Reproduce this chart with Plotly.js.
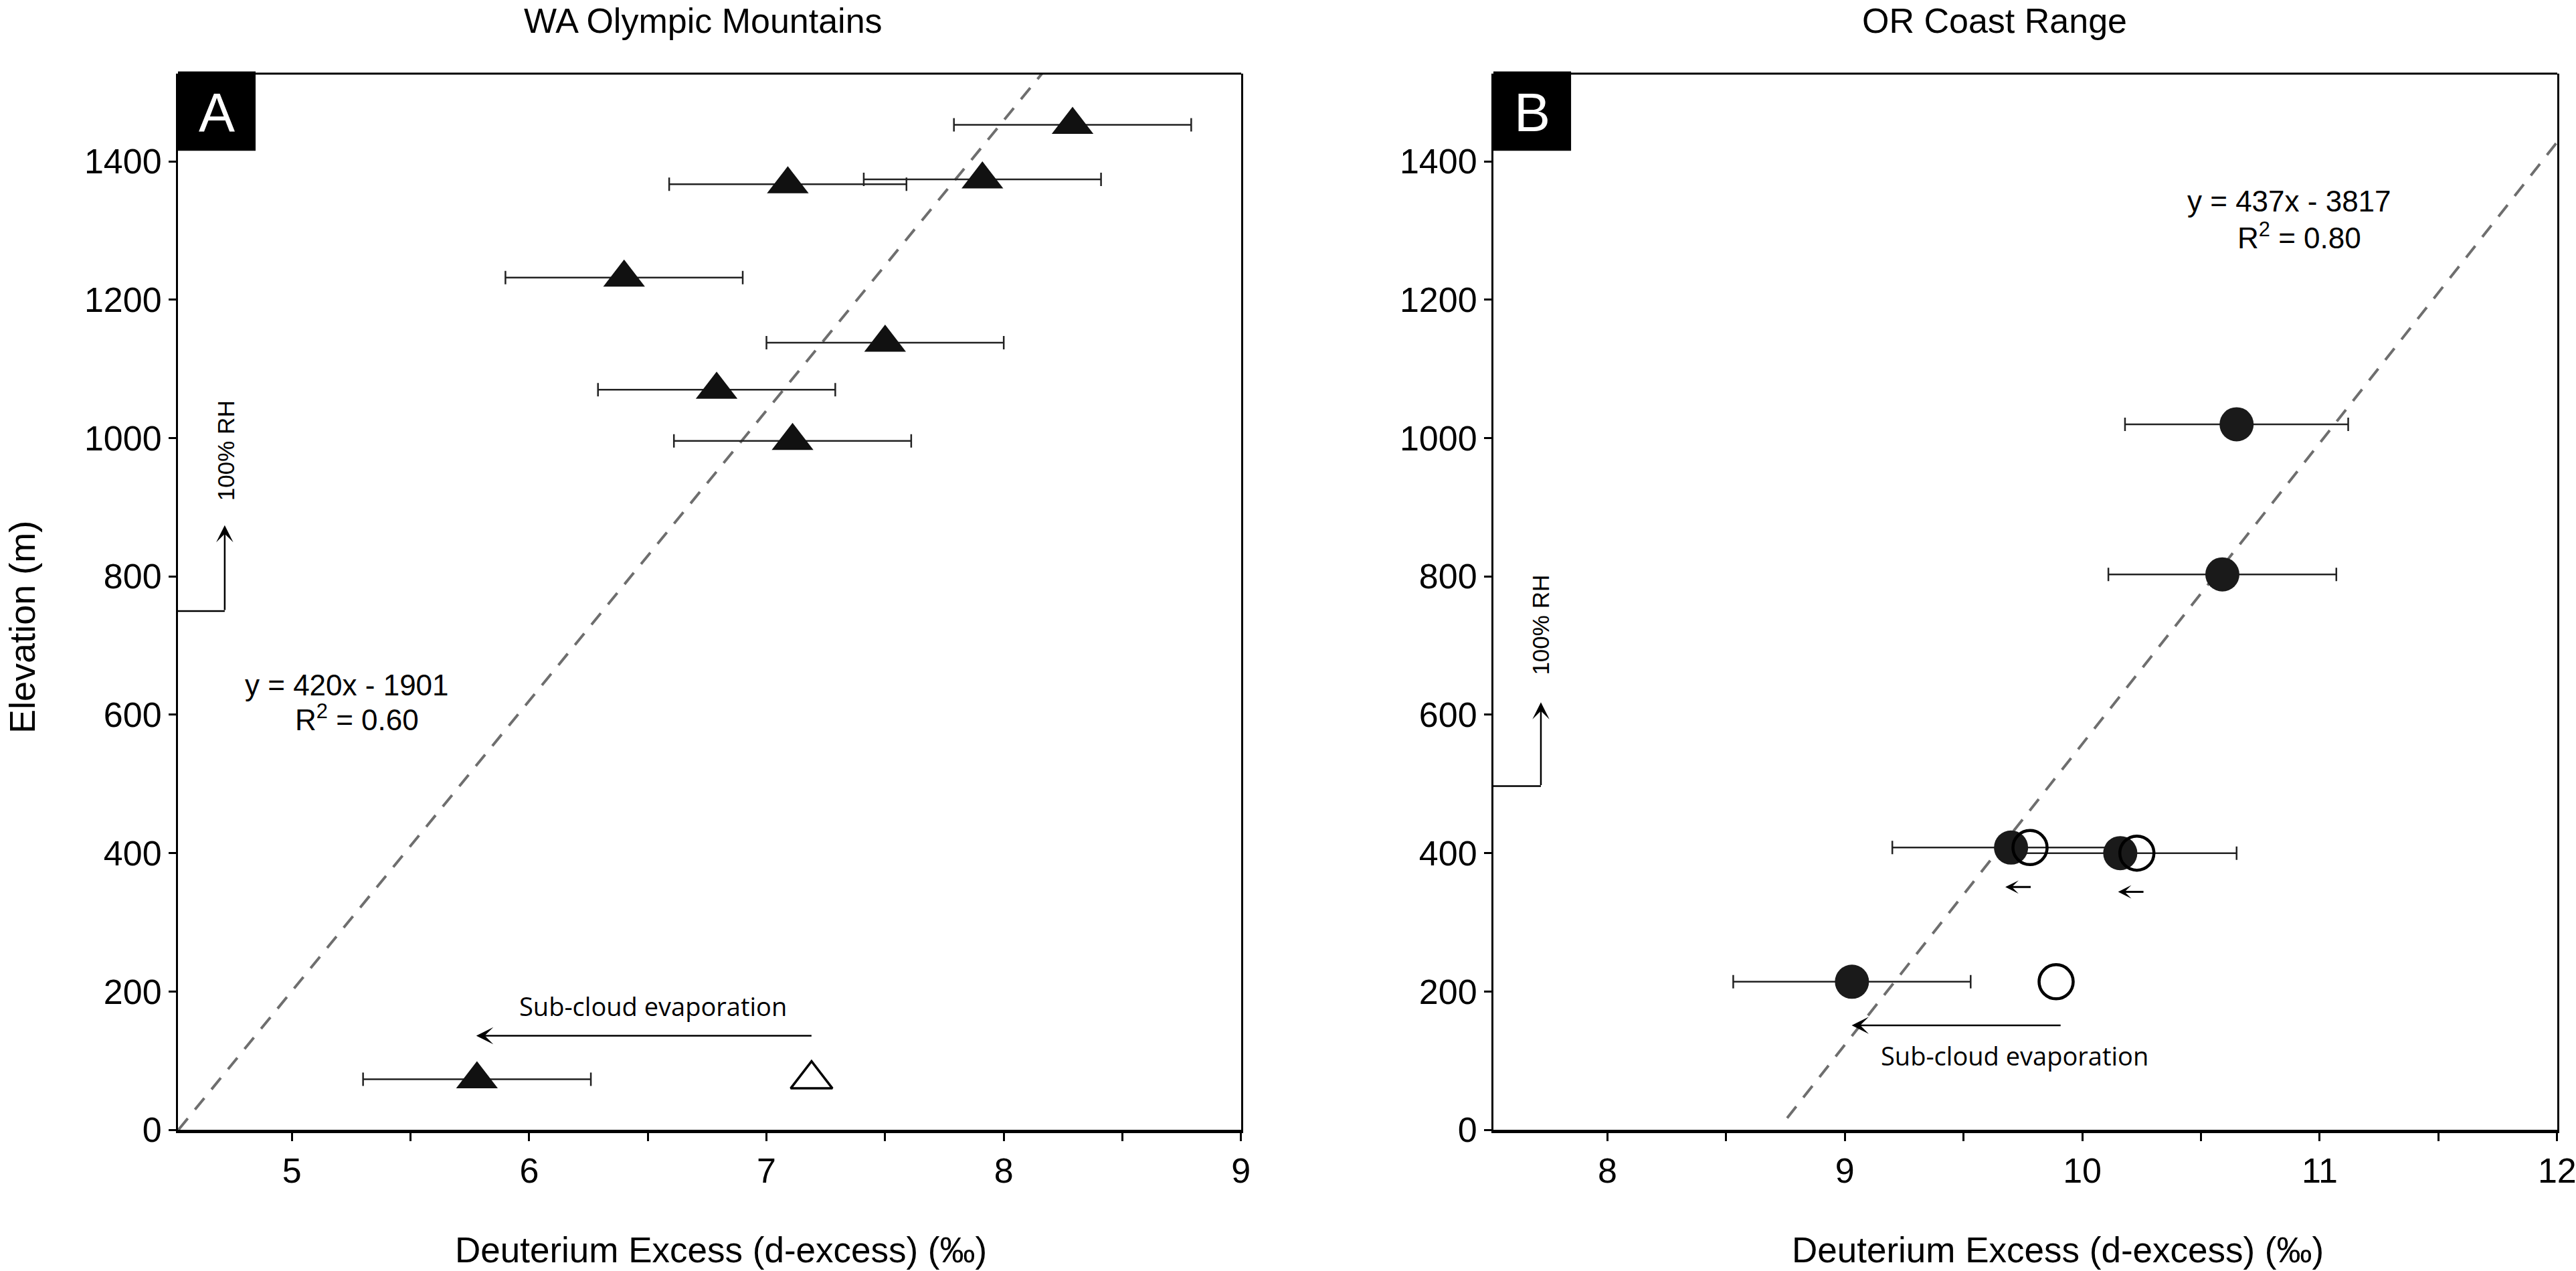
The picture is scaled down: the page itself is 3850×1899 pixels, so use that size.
<!DOCTYPE html>
<html>
<head>
<meta charset="utf-8">
<script src="https://cdn.plot.ly/plotly-3.0.1.min.js"></script>
<style>
  body { margin: 0; background: #fff; }
  #myDiv { width: 3850px; height: 1899px; }
</style>
</head>
<body>
<div id="myDiv"></div>
<script>
// Panel A - WA Olympic Mountains (triangles)
var dexA = [8.29, 7.09, 7.91, 6.40, 7.50, 6.79, 7.11, 5.78];
var elevA = [1453, 1367, 1374, 1232, 1138, 1070, 996, 73];
var errA = [0.5, 0.5, 0.5, 0.5, 0.5, 0.5, 0.5, 0.48];
var dexAOpen = [7.19];
var elevAOpen = [73];

// Panel B - OR Coast Range (circles)
var dexB = [10.65, 10.59, 9.70, 10.16, 9.03];
var elevB = [1020, 803, 408, 400, 214];
var errB = [0.47, 0.48, 0.5, 0.49, 0.5];
var dexBOpen = [9.78, 10.23, 9.89];
var elevBOpen = [408, 400, 214];

// regression lines, end points
var fitAx = [4.522, 8.161];
var fitAy = [0, 1527];
var fitBx = [8.757, 12];
var fitBy = [17, 1428];

// ticks
var xTicksA = [5, 5.5, 6, 6.5, 7, 7.5, 8, 8.5, 9];
var xLabelsA = ['5', '', '6', '', '7', '', '8', '', '9'];
var xTicksB = [8, 8.5, 9, 9.5, 10, 10.5, 11, 11.5, 12];
var xLabelsB = ['8', '', '9', '', '10', '', '11', '', '12'];
var yTicks = [0, 200, 400, 600, 800, 1000, 1200, 1400];

var FONT = 'Liberation Sans, Arial, Helvetica, sans-serif';
var dashLine = {color: '#6e6e6e', width: 4, dash: '22px,17px'};
var errStyle = {type: 'data', visible: true, color: '#222', thickness: 2.5, width: 10};

var data = [
  {x: fitAx, y: fitAy, xaxis: 'x', yaxis: 'y', mode: 'lines', line: dashLine, hoverinfo: 'skip'},
  {x: fitBx, y: fitBy, xaxis: 'x2', yaxis: 'y2', mode: 'lines', line: dashLine, hoverinfo: 'skip'},
  {
    x: dexA, y: elevA, xaxis: 'x', yaxis: 'y', mode: 'markers',
    marker: {symbol: 'triangle-up', size: 54, color: '#111'},
    error_x: Object.assign({array: errA}, errStyle)
  },
  {
    x: dexAOpen, y: elevAOpen, xaxis: 'x', yaxis: 'y', mode: 'markers',
    marker: {symbol: 'triangle-up-open', size: 54, color: '#000', line: {width: 3.5}}
  },
  {
    x: dexB, y: elevB, xaxis: 'x2', yaxis: 'y2', mode: 'markers',
    marker: {symbol: 'circle', size: 51, color: '#1a1a1a'},
    error_x: Object.assign({array: errB}, errStyle)
  },
  {
    x: dexBOpen, y: elevBOpen, xaxis: 'x2', yaxis: 'y2', mode: 'markers',
    marker: {symbol: 'circle-open', size: 51, color: '#000', line: {width: 4.5}}
  }
];

function xAxis(dom, rng, vals, labels, anchor) {
  return {
    domain: dom, range: rng, anchor: anchor,
    tickmode: 'array', tickvals: vals, ticktext: labels,
    ticks: 'outside', ticklen: 12, tickwidth: 3, tickcolor: '#000',
    tickfont: {family: FONT, size: 52, color: '#000'},
    ticklabeloverflow: 'allow',
    showline: true, linewidth: 5, linecolor: '#000', mirror: false,
    showgrid: false, zeroline: false
  };
}
function yAxis(anchor) {
  return {
    domain: [0, 1], range: [0, 1527], anchor: anchor,
    tickmode: 'array', tickvals: yTicks,
    ticks: 'outside', ticklen: 11, tickwidth: 3, tickcolor: '#000',
    tickfont: {family: FONT, size: 52, color: '#000'},
    showline: true, linewidth: 3, linecolor: '#000', mirror: true,
    showgrid: false, zeroline: false
  };
}

function txt(xref, yref, x, y, text, size, extra) {
  return Object.assign({
    xref: xref, yref: yref, x: x, y: y, text: text, showarrow: false,
    xanchor: 'center', yanchor: 'middle',
    font: {family: FONT, size: size, color: '#000'}
  }, extra || {});
}
function arrow(xr, yr, x0, y0, x1, y1, w, s) {
  return {
    xref: xr, yref: yr, axref: xr, ayref: yr,
    x: x1, y: y1, ax: x0, ay: y0, text: '', showarrow: true,
    arrowhead: 3, arrowwidth: w, arrowsize: s, arrowcolor: '#000', standoff: 0
  };
}

var annotations = [
  // panel titles
  txt('paper', 'paper', 0.2208, 1.050, 'WA Olympic Mountains', 52),
  txt('paper', 'paper', 0.7635, 1.050, 'OR Coast Range', 52),
  // axis titles
  txt('paper', 'paper', 0.2281, -0.114, 'Deuterium Excess (d-excess) (‰)', 53),
  txt('paper', 'paper', 0.7902, -0.114, 'Deuterium Excess (d-excess) (‰)', 53),
  txt('paper', 'paper', -0.0655, 0.476, 'Elevation (m)', 54, {textangle: -90}),
  // panel letters
  txt('x domain', 'y domain', 0.0365, 0.9635, 'A', 81, {font: {family: FONT, size: 81, color: '#fff'}}),
  txt('x2 domain', 'y2 domain', 0.0365, 0.9635, 'B', 81, {font: {family: FONT, size: 81, color: '#fff'}}),
  // regression equations
  txt('x', 'y', 5.231, 643, 'y = 420x - 1901', 44),
  txt('x', 'y', 5.273, 596, 'R<sup>2</sup> = 0.60', 44),
  txt('x2', 'y2', 10.873, 1343, 'y = 437x - 3817', 44),
  txt('x2', 'y2', 10.915, 1292, 'R<sup>2</sup> = 0.80', 44),
  // 100% RH labels
  txt('x', 'y', 4.72, 982, '100% RH', 35, {textangle: -90}),
  txt('x2', 'y2', 7.72, 730, '100% RH', 35, {textangle: -90}),
  // sub-cloud evaporation labels
  txt('x', 'y', 6.523, 179, 'Sub-cloud evaporation', 38, {font: {family: 'Open Sans, sans-serif', size: 38, color: '#000'}}),
  txt('x2', 'y2', 9.714, 107, 'Sub-cloud evaporation', 38, {font: {family: 'Open Sans, sans-serif', size: 38, color: '#000'}}),
  // arrows
  arrow('x', 'y', 7.194, 136, 5.777, 136, 2.5, 1.7),
  arrow('x2', 'y2', 9.913, 151, 9.029, 151, 2.5, 1.7),
  arrow('x2', 'y2', 9.787, 351, 9.676, 351, 3, 1.1),
  arrow('x2', 'y2', 10.262, 344, 10.151, 344, 3, 1.1),
  arrow('x', 'y', 4.717, 750, 4.717, 874, 2.5, 1.7),
  arrow('x2', 'y2', 7.72, 497, 7.72, 618, 2.5, 1.7)
];

var shapes = [
  // top border lines
  {type: 'line', xref: 'x domain', yref: 'y domain', x0: 0, x1: 1, y0: 1, y1: 1, line: {color: '#000', width: 3}},
  {type: 'line', xref: 'x2 domain', yref: 'y2 domain', x0: 0, x1: 1, y0: 1, y1: 1, line: {color: '#000', width: 3}},
  // black letter boxes
  {type: 'rect', xref: 'x domain', yref: 'y domain', x0: 0, x1: 0.073, y0: 0.927, y1: 1.002, fillcolor: '#000', line: {width: 0}},
  {type: 'rect', xref: 'x2 domain', yref: 'y2 domain', x0: 0, x1: 0.073, y0: 0.927, y1: 1.002, fillcolor: '#000', line: {width: 0}},
  // 100% RH elbow
  {type: 'line', xref: 'x', yref: 'y', x0: 4.52, x1: 4.717, y0: 750, y1: 750, line: {color: '#000', width: 2.5}},
  {type: 'line', xref: 'x2', yref: 'y2', x0: 7.52, x1: 7.72, y0: 497, y1: 497, line: {color: '#000', width: 2.5}}
];

var layout = {
  width: 3850, height: 1899,
  margin: {l: 266, r: 28, t: 110, b: 211},
  paper_bgcolor: '#fff', plot_bgcolor: '#fff',
  showlegend: false,
  font: {family: FONT, color: '#000'},
  xaxis: xAxis([0, 0.44685], [4.52, 9.0005], xTicksA, xLabelsA, 'y'),
  yaxis: yAxis('x'),
  xaxis2: xAxis([0.55287, 1], [7.52, 12.0005], xTicksB, xLabelsB, 'y2'),
  yaxis2: yAxis('x2'),
  annotations: annotations,
  shapes: shapes
};

Plotly.newPlot('myDiv', data, layout, {displayModeBar: false, staticPlot: true});
</script>
</body>
</html>
